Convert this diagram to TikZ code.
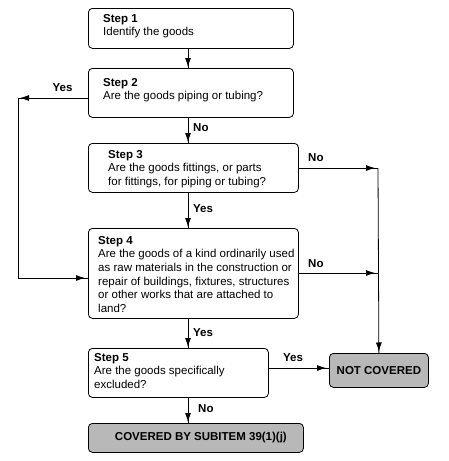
\documentclass[tikz,border=0pt]{standalone}
\usepackage{fontspec}
\setmainfont{Liberation Sans}
\usetikzlibrary{arrows.meta,decorations.markings}
\begin{document}
\begin{tikzpicture}[x=1pt,y=-1pt,
 box/.style={draw, line width=0.8pt, rounded corners=4pt, anchor=north west, inner sep=0pt},
 endbox/.style={box, fill=black!28, font=\fontsize{11.5}{13.5}\selectfont\bfseries},
 txt/.style={anchor=north west, inner sep=0pt, align=left, font=\fontsize{11.5}{13.6}\selectfont},
 lbl/.style={inner sep=0pt, font=\fontsize{11.5}{13.5}\selectfont\bfseries},
 conn/.style={draw, line width=0.8pt},
 arrowat/.style={postaction={decorate}, decoration={markings, mark=at position -#1 with {\arrow{Latex[length=9pt,width=6pt]}}}}
]
\useasboundingbox (0,0) rectangle (449,461);
% boxes
\node[box, minimum width=205pt, minimum height=40pt] (s1) at (88,8) {};
\node[box, minimum width=205pt, minimum height=49pt] (s2) at (88,68) {};
\node[box, minimum width=210pt, minimum height=49pt] (s3) at (88,143) {};
\node[box, minimum width=210pt, minimum height=90pt] (s4) at (88,228) {};
\node[box, minimum width=180pt, minimum height=49pt] (s5) at (88,348) {};
\node[endbox, minimum width=215pt, minimum height=29pt] (cov) at (88,423) {\hspace{10pt}COVERED BY SUBITEM 39(1)(j)};
\node[endbox, minimum width=99pt, minimum height=34pt] (nc) at (329,353) {NOT COVERED};
% texts
\node[txt] (t1) at (103,14) {\textbf{Step 1}\\Identify the goods};
\node[txt] (t2) at (103,78) {\textbf{Step 2}\\Are the goods piping or tubing?};
\node[txt] (t3) at (108,150) {\textbf{Step 3}\\Are the goods fittings, or parts\\for fittings, for piping or tubing?};
\node[txt] (t4) at (98,236) {\textbf{Step 4}\\Are the goods of a kind ordinarily used\\as raw materials in the construction or\\repair of buildings, fixtures, structures\\or other works that are attached to\\land?};
\node[txt] (t5) at (94,353) {\textbf{Step 5}\\Are the goods specifically\\excluded?};
% helper coordinates
\coordinate (cx) at (188,0);
\coordinate (L1) at (18,98);
\coordinate (L2) at (18,278);
\coordinate (R1) at (378,168);
\coordinate (R2) at (378,273);
\coordinate (Y5) at (0,368);
% connectors
\draw[conn, arrowat=1pt] (cx |- s1.south) -- (cx |- s2.north);
\draw[conn, arrowat=1pt] (cx |- s2.south) -- (cx |- s3.north);
\draw[conn, arrowat=1pt] (cx |- s3.south) -- (cx |- s4.north);
\draw[conn, arrowat=1pt] (cx |- s4.south) -- (cx |- s5.north);
\draw[conn, arrowat=1pt] (cx |- s5.south) -- (cx |- cov.north);
\draw[conn, arrowat=2pt] (L1 -| s2.west) -- (L1);
\draw[conn, arrowat=3pt] (L1) -- (L2) -- (L2 -| s4.west);
\draw[conn, arrowat=3pt] (R1 -| s3.east) -- (R1);
\draw[conn, arrowat=3pt] (R2 -| s4.east) -- (R2);
\draw[conn, arrowat=1.5pt] (R1) -- (nc.north);
\draw[conn, arrowat=3pt] (Y5 -| s5.east) -- (Y5 -| nc.west);
% labels
\node[lbl] (y1) at (62.5,88) {Yes};
\node[lbl, anchor=west] (n1) at (193,128) {No};
\node[lbl, anchor=west] (n2) at (308,158) {No};
\node[lbl, anchor=west] (y2) at (193,209) {Yes};
\node[lbl, anchor=west] (n3) at (308,264) {No};
\node[lbl, anchor=west] (y3) at (193,333) {Yes};
\node[lbl, anchor=west] (y4) at (283,358) {Yes};
\node[lbl, anchor=west] (n4) at (198,409) {No};
\end{tikzpicture}
\end{document}
